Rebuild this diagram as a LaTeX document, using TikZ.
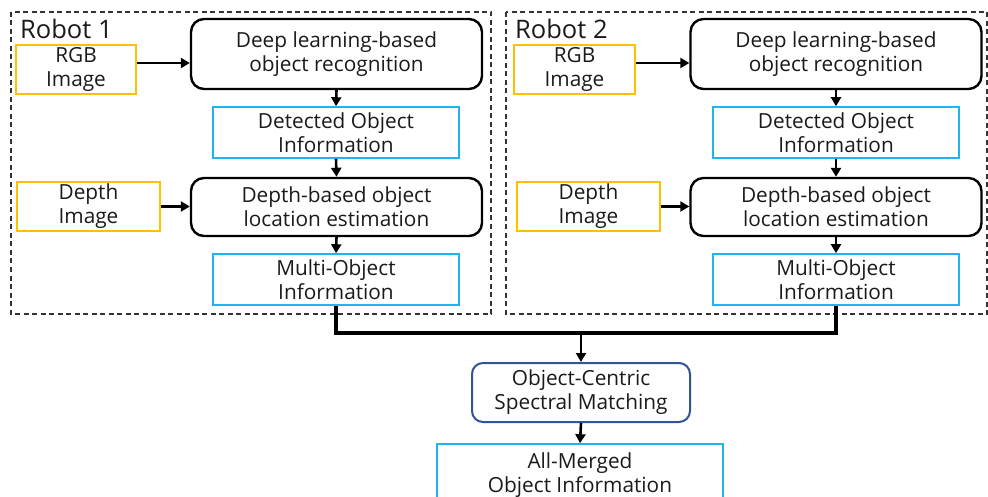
\documentclass[tikz,border=0pt]{standalone}
\usepackage{fontspec}
\setmainfont{Open Sans}
\usetikzlibrary{arrows.meta}
\definecolor{imgc}{HTML}{FFC000}
\definecolor{datac}{HTML}{1FB4EE}
\definecolor{ocsmc}{HTML}{2F5597}
\definecolor{txt}{HTML}{1A1A1A}
\tikzset{
  base/.style={inner sep=0pt, align=center, text=txt, font=\fontsize{20.8}{24}\selectfont},
  proc/.style={base, draw=black, line width=2.4pt, rounded corners=13pt},
  datab/.style={base, draw=datac, line width=1.6pt},
  imgb/.style={base, draw=imgc, line width=1.7pt},
  ocsm/.style={base, draw=ocsmc, line width=2pt, rounded corners=11pt},
  robotbox/.style={draw=black!80, dashed, dash pattern=on 5pt off 3.5pt, line width=1.3pt},
  arr/.style={line width=2.6pt, -{Triangle[length=9pt,width=10pt]}},
  merge/.style={line width=3.2pt},
  rlabel/.style={anchor=base west, inner sep=0pt, text=txt, font=\fontsize{25.5}{28}\selectfont}
}
\begin{document}
\begin{tikzpicture}[x=1pt,y=-1pt]
\useasboundingbox (0,0) rectangle (988,497);
\clip (0,0) rectangle (988,497);
% Robot 1
\draw[robotbox] (11,12) rectangle (491,314);
\node[rlabel] (r1) at (20,39) {Robot 1};
\node[imgb, minimum width=120pt, minimum height=49pt] (rgb1) at (76,69.5) {RGB\\Image};
\node[proc, minimum width=291pt, minimum height=70pt] (dl1) at (336.5,54) {Deep learning-based\\object recognition};
\node[datab, minimum width=246pt, minimum height=51pt] (det1) at (336,132.5) {Detected Object\\Information};
\node[imgb, minimum width=143pt, minimum height=49pt] (dep1) at (88.5,206.5) {Depth\\Image};
\node[proc, minimum width=291pt, minimum height=58pt] (db1) at (336.5,207) {Depth-based object\\location estimation};
\node[datab, minimum width=246pt, minimum height=51pt] (mo1) at (336,279.5) {Multi-Object\\Information};
\draw[arr] (rgb1.east |- 0,63) -- (dl1.west |- 0,63);
\draw[arr] (dl1.south) -- (det1.north);
\draw[arr] (det1.south) -- (db1.north);
\draw[arr] (dep1.east) -- (db1.west |- dep1.east);
\draw[arr] (db1.south) -- (mo1.north);
% Robot 2
\draw[robotbox] (506,12) rectangle (987,314);
\node[rlabel] (r2) at (515,39) {Robot 2};
\node[imgb, minimum width=121pt, minimum height=49pt] (rgb2) at (574.5,69.5) {RGB\\Image};
\node[proc, minimum width=291pt, minimum height=70pt] (dl2) at (836,54) {Deep learning-based\\object recognition};
\node[datab, minimum width=246pt, minimum height=51pt] (det2) at (836,132.5) {Detected Object\\Information};
\node[imgb, minimum width=143pt, minimum height=49pt] (dep2) at (588.5,206.5) {Depth\\Image};
\node[proc, minimum width=291pt, minimum height=58pt] (db2) at (836,207) {Depth-based object\\location estimation};
\node[datab, minimum width=246pt, minimum height=51pt] (mo2) at (836,279.5) {Multi-Object\\Information};
\draw[arr] (rgb2.east |- 0,63) -- (dl2.west |- 0,63);
\draw[arr] (dl2.south) -- (det2.north);
\draw[arr] (det2.south) -- (db2.north);
\draw[arr] (dep2.east) -- (db2.west |- dep2.east);
\draw[arr] (db2.south) -- (mo2.north);
% Merge
\node[ocsm, minimum width=218pt, minimum height=59pt] (oc) at (581,392.5) {Object-Centric\\Spectral Matching};
\node[datab, minimum width=286pt, minimum height=62pt] (am) at (580,475) {All-Merged\\Object Information};
\coordinate (mj) at (581,333);
\draw[merge] (mo1.south) |- (mj) -| (mo2.south);
\draw[arr] (mj) -- (oc.north);
\draw[arr] (oc.south) -- (am.north);
\end{tikzpicture}
\end{document}
